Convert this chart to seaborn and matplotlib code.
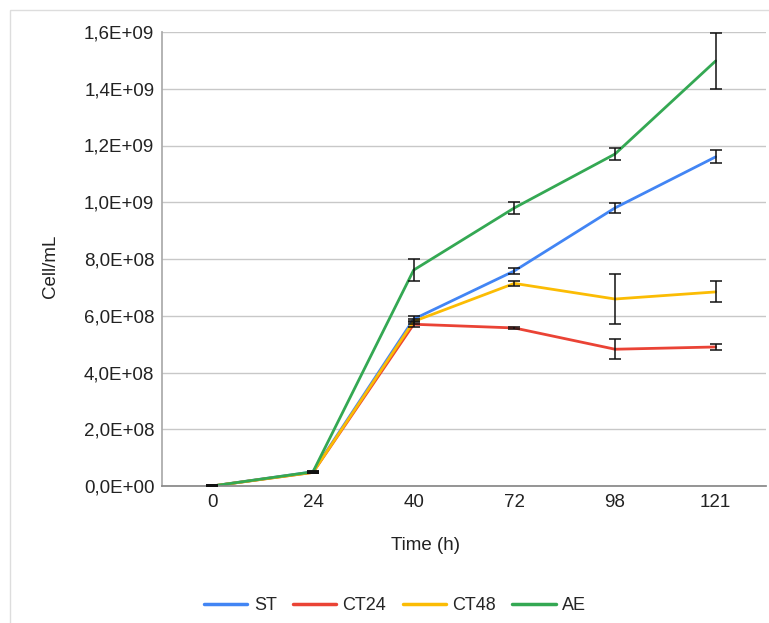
import numpy as np
import pandas as pd
import matplotlib
matplotlib.use("Agg")
import matplotlib.pyplot as plt
import seaborn as sns
from matplotlib.patches import Rectangle
from matplotlib.ticker import FuncFormatter
from matplotlib.lines import Line2D

time_labels = ["0", "24", "40", "72", "98", "121"]
series_names = ["ST", "CT24", "CT48", "AE"]
st_vals = [0.0, 5.0e7, 5.88e8, 7.58e8, 9.80e8, 1.160e9]
ct24_vals = [0.0, 4.8e7, 5.70e8, 5.57e8, 4.82e8, 4.90e8]
ct48_vals = [0.0, 4.8e7, 5.80e8, 7.14e8, 6.59e8, 6.84e8]
ae_vals = [0.0, 5.0e7, 7.61e8, 9.80e8, 1.170e9, 1.498e9]
st_err = [2e6, 3e6, 1.0e7, 1.0e7, 1.8e7, 2.3e7]
ct24_err = [2e6, 3e6, 1.0e7, 4e6, 3.5e7, 1.0e7]
ct48_err = [2e6, 3e6, 1.0e7, 1.0e7, 8.8e7, 3.7e7]
ae_err = [2e6, 3e6, 3.9e7, 2.0e7, 2.1e7, 1.0e8]
colors = ["#4285F4", "#EA4335", "#FBBC04", "#34A853"]

vals = [st_vals, ct24_vals, ct48_vals, ae_vals]
errs = [st_err, ct24_err, ct48_err, ae_err]

rows = []
for name, v in zip(series_names, vals):
    for i, y in enumerate(v):
        rows.append({"pos": i, "series": name, "value": y})
df = pd.DataFrame(rows)

sns.set_theme(style="white")
plt.rcParams["font.family"] = ["Liberation Sans", "DejaVu Sans"]

fig = plt.figure(figsize=(7.69, 6.23), dpi=100)
W, H = 769, 623
ax = fig.add_axes([162 / W, 1 - 486 / H, (766 - 162) / W, (486 - 32) / H])

fig.patches.append(Rectangle((10 / W, -0.1), 1.2, 1 - 10 / H + 0.1, transform=fig.transFigure,
                             fill=False, edgecolor="#dddddd", linewidth=1.0))

sns.lineplot(data=df, x="pos", y="value", hue="series", hue_order=series_names,
             palette=colors, linewidth=2, ax=ax, legend=False, sort=False)

for v, e in zip(vals, errs):
    ax.errorbar(range(len(time_labels)), v, yerr=e, fmt="none", ecolor="#111111",
                elinewidth=1.1, capsize=4, capthick=1.1, zorder=5)

ax.set_xlim(-0.5, 5.5)
ax.set_ylim(0, 1.6e9)
ax.set_yticks(np.arange(0, 1.61e9, 2e8))
ax.set_xticks(range(len(time_labels)))
ax.set_xticklabels(time_labels)
ax.set_xlabel("")
ax.set_ylabel("")

def fmt(y, p):
    if y == 0:
        return "0,0E+00"
    exp = int(np.floor(np.log10(y) + 1e-9))
    m = y / 10 ** exp
    return ("%.1fE+%02d" % (m, exp)).replace(".", ",")
ax.yaxis.set_major_formatter(FuncFormatter(fmt))

ax.grid(axis="y", color="#c8c8c8", linewidth=1)
ax.set_axisbelow(True)
for s in ["top", "right"]:
    ax.spines[s].set_visible(False)
ax.spines["left"].set_color("#aaaaaa")
ax.spines["bottom"].set_color("#888888")
ax.tick_params(axis="both", length=0, labelsize=13.5, colors="#222222")
ax.tick_params(axis="y", pad=5.5)
ax.tick_params(axis="x", pad=6)

fig.text(425 / W, 1 - 545 / H, "Time (h)", fontsize=13.5, color="#222222",
         ha="center", va="center")
fig.text(50 / W, 1 - 266 / H, "Cell/mL", fontsize=13.5, color="#222222",
         ha="center", va="center", rotation=90)

handles = [Line2D([0], [0], color=c, lw=2.5) for c in colors]
fig.legend(handles, series_names, loc="center", bbox_to_anchor=(395 / W, 1 - 606 / H),
           ncol=4, frameon=False, fontsize=13, handlelength=2.4, handletextpad=0.35,
           columnspacing=0.9)

fig.savefig("out.png", dpi=100, facecolor="white")
